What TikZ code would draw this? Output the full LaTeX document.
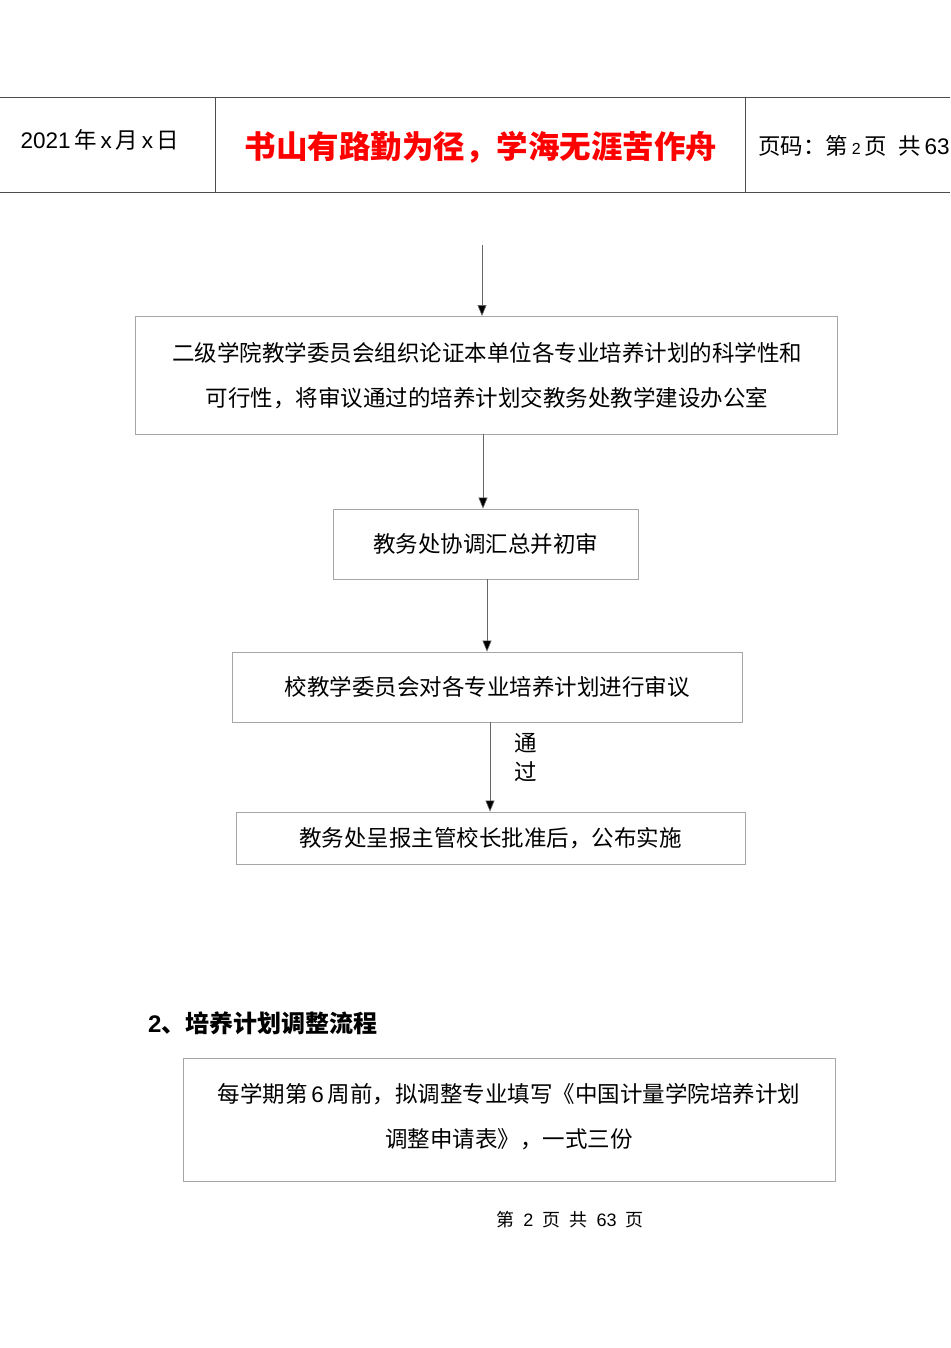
\documentclass[tikz,border=0pt]{standalone}
\usepackage{fontspec}
\setmainfont{Noto Sans CJK SC}
\newfontfamily\lat{Liberation Sans}
\usetikzlibrary{arrows.meta}
\begin{document}
\begin{tikzpicture}[x=1pt,y=-1pt,
  box/.style={draw=black!35,line width=0.8pt},
  txt/.style={font=\fontsize{22.5}{26}\selectfont,inner sep=0pt},
  arr/.style={draw=black!60,line width=0.6pt,-{Triangle[length=11pt,width=9pt,fill=black]}}]
\useasboundingbox[fill=white] (0,0) rectangle (950,1348);
\draw[line width=0.8pt,black!70] (0,97) -- (950,97) (0,192) -- (950,192) (215,97) -- (215,192) (745,97) -- (745,192);
\node[txt] (d) at (100,140) {{\lat 2021}\,年\,{\lat x}\,月\,{\lat x}\,日};
\node[txt,font=\bfseries\fontsize{31.5}{34}\selectfont,text=red] (t) at (481,147) {书山有路勤为径，学海无涯苦作舟};
\node[txt,anchor=west] (p) at (758,146) {页码：第\,{\lat\fontsize{16}{18}\selectfont 2}\,页\; 共\,{\lat 63}};
\coordinate (s) at (482,245);
\draw[box] (135,316) rectangle (837,434); \coordinate (b1t) at (482,316); \coordinate (b1b) at (483,434);
\node[txt] (l1) at (487,353) {二级学院教学委员会组织论证本单位各专业培养计划的科学性和};
\node[txt] (l2) at (487,398) {可行性，将审议通过的培养计划交教务处教学建设办公室};
\node[box,txt,minimum width=305pt,minimum height=70pt] (b2) at (485.5,544) {教务处协调汇总并初审};
\node[box,txt,minimum width=510pt,minimum height=70pt] (b3) at (487,687) {校教学委员会对各专业培养计划进行审议};
\node[box,txt,minimum width=509pt,minimum height=52pt] (b4) at (490.5,838) {教务处呈报主管校长批准后，公布实施};
\draw[arr] (s) -- (b1t);
\draw[arr] (b1b) -- (b1b|-b2.north);
\draw[arr] (b2.south-|487,0) -- (b3.north-|487,0);
\draw[arr] (b3.south-|490,0) -- (b4.north-|490,0);
\node[txt,align=center] (tg) at (526,758) {通\\[3pt]过};
\node[txt,anchor=west,font=\bfseries\fontsize{24}{26}\selectfont] (h) at (148,1023) {{\lat 2}、培养计划调整流程};
\draw[box] (183,1058) rectangle (835,1181);
\node[txt] (m1) at (509,1094) {每学期第\,{\lat 6}\,周前，拟调整专业填写《中国计量学院培养计划};
\node[txt] (m2) at (509,1139) {调整申请表》，一式三份};
\node[txt,font=\fontsize{18}{20}\selectfont] (f) at (570,1220) {第\enspace{\lat 2}\enspace 页\enspace 共\enspace{\lat 63}\enspace 页};
\end{tikzpicture}
\end{document}
